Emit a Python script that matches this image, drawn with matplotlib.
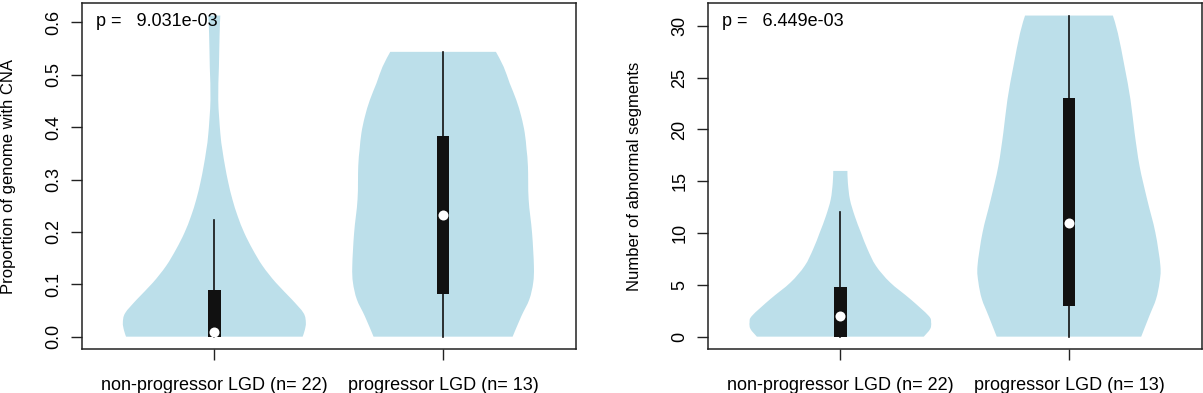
import matplotlib
matplotlib.use("Agg")
import matplotlib.pyplot as plt
from matplotlib.path import Path
from matplotlib.patches import PathPatch
import numpy as np

plt.rcParams['font.family'] = ['Liberation Sans', 'DejaVu Sans']

# ---- data ----
categories = ["non-progressor LGD (n= 22)", "progressor LGD (n= 13)"]

# Panel A: proportion of genome with CNA
a_pvalue = "9.031e-03"
a_ylabel = "Proportion of genome with CNA"
a_yticks = [0.0, 0.1, 0.2, 0.3, 0.4, 0.5, 0.6]
a_ylim = (-0.0245, 0.6375)
a1_y = [0.0, 0.012, 0.0267, 0.045, 0.071, 0.103, 0.135, 0.167, 0.198, 0.230, 0.262,
        0.294, 0.325, 0.357, 0.389, 0.452, 0.515, 0.578, 0.613]
a1_w = [0.386, 0.395, 0.400, 0.390, 0.339, 0.269, 0.211, 0.167, 0.131, 0.102, 0.079,
        0.061, 0.047, 0.035, 0.026, 0.017, 0.020, 0.023, 0.026]
a2_y = [0.0, 0.039, 0.071, 0.103, 0.135, 0.198, 0.262, 0.325, 0.357, 0.389, 0.420,
        0.452, 0.484, 0.515, 0.5437]
a2_w = [0.304, 0.342, 0.377, 0.394, 0.397, 0.389, 0.374, 0.371, 0.365, 0.357, 0.342,
        0.320, 0.291, 0.265, 0.231]
a_q1 = [0.0, 0.081]
a_q3 = [0.089, 0.384]
a_med = [0.009, 0.232]
a_wlo = [0.0, 0.0]
a_whi = [0.223, 0.5437]

# Panel B: number of abnormal segments
b_pvalue = "6.449e-03"
b_ylabel = "Number of abnormal segments"
b_yticks = [0, 5, 10, 15, 20, 25, 30]
b_ylim = (-1.24, 32.24)
b1_y = [0.0, 0.74, 1.38, 2.02, 3.63, 5.23, 6.83, 8.44, 10.05, 11.65, 13.25, 14.86, 16.0]
b1_w = [0.365, 0.393, 0.397, 0.386, 0.306, 0.218, 0.156, 0.119, 0.090, 0.063, 0.042,
        0.033, 0.031]
b2_y = [0.0, 2.02, 3.63, 5.23, 6.83, 10.05, 13.25, 16.46, 19.7, 22.9, 26.1, 29.3, 31.0]
b2_w = [0.316, 0.352, 0.381, 0.396, 0.400, 0.378, 0.342, 0.309, 0.287, 0.269, 0.243,
        0.214, 0.192]
b_q1 = [0, 3]
b_q3 = [4.8, 23]
b_med = [2, 11]
b_wlo = [0, 0]
b_whi = [12, 31]

VIOLIN = "#bcdfea"
BOXCOL = "#111111"
FS = 13
FS_LABEL = 12

fig = plt.figure(figsize=(12.03, 3.93), dpi=100)
axA = fig.add_axes([0.0679, 0.1107, 0.4107, 0.8824])
axB = fig.add_axes([0.5883, 0.1107, 0.4105, 0.8824])


def smooth_segments(pts):
    """Bezier (CURVE4) codes/vertices passing through the measured outline points."""
    pts = np.asarray(pts, dtype=float)
    n = len(pts)
    verts, codes = [], []
    for i in range(n - 1):
        p0 = pts[max(i - 1, 0)]
        p1 = pts[i]
        p2 = pts[i + 1]
        p3 = pts[min(i + 2, n - 1)]
        c1 = p1 + (p2 - p0) / 6.0
        c2 = p2 - (p3 - p1) / 6.0
        verts += [tuple(c1), tuple(c2), tuple(p2)]
        codes += [Path.CURVE4] * 3
    return verts, codes


def violin_patch(pos, yy, ww):
    yy = np.asarray(yy, dtype=float)
    ww = np.asarray(ww, dtype=float)
    right = np.column_stack([pos + ww, yy])
    left = np.column_stack([pos - ww, yy])[::-1]
    verts = [tuple(right[0])]
    codes = [Path.MOVETO]
    v, c = smooth_segments(right)
    verts += v
    codes += c
    verts.append(tuple(left[0]))
    codes.append(Path.LINETO)
    v, c = smooth_segments(left)
    verts += v
    codes += c
    verts.append(tuple(right[0]))
    codes.append(Path.CLOSEPOLY)
    return PathPatch(Path(verts, codes), facecolor=VIOLIN, edgecolor='none', lw=0,
                     zorder=1)


def draw(ax, profiles, q1, q3, med, wlo, whi, yticks, ylim, ylabel, pval, fmt):
    for i, (yy, ww) in enumerate(profiles):
        pos = i + 1
        ax.add_patch(violin_patch(pos, yy, ww))
        ax.plot([pos, pos], [wlo[i], whi[i]], color=BOXCOL, lw=1.2, zorder=2)
        ax.fill_between([pos - 0.028, pos + 0.028], q1[i], q3[i], color=BOXCOL,
                        lw=0, zorder=3)
        ax.plot([pos], [med[i]], 'o', color='white', markersize=7.2,
                markeredgewidth=0, zorder=4)
    ax.set_xlim(0.42, 2.58)
    ax.set_ylim(*ylim)
    ax.set_xticks([1, 2])
    ax.set_xticklabels(categories, fontsize=FS)
    ax.set_yticks(yticks)
    ax.set_yticklabels([fmt(v) for v in yticks], fontsize=FS, rotation=90,
                       va='center')
    ax.tick_params(axis='both', length=8, width=1.0, color='#222222')
    ax.tick_params(axis='y', pad=6)
    ax.tick_params(axis='x', pad=12)
    ax.set_ylabel(ylabel, fontsize=FS_LABEL)
    for s in ax.spines.values():
        s.set_linewidth(1.1)
        s.set_color('#222222')
    ax.text(0.029, 0.947, "p =   " + pval, transform=ax.transAxes, fontsize=FS,
            ha='left', va='center')


draw(axA, [(a1_y, a1_w), (a2_y, a2_w)], a_q1, a_q3, a_med, a_wlo, a_whi,
     a_yticks, a_ylim, a_ylabel, a_pvalue, lambda v: f"{v:.1f}")
draw(axB, [(b1_y, b1_w), (b2_y, b2_w)], b_q1, b_q3, b_med, b_wlo, b_whi,
     b_yticks, b_ylim, b_ylabel, b_pvalue, lambda v: f"{v:d}")
axA.yaxis.set_label_coords(-0.132, 0.5)
axB.yaxis.set_label_coords(-0.134, 0.5)

fig.savefig("out.png", dpi=100)
